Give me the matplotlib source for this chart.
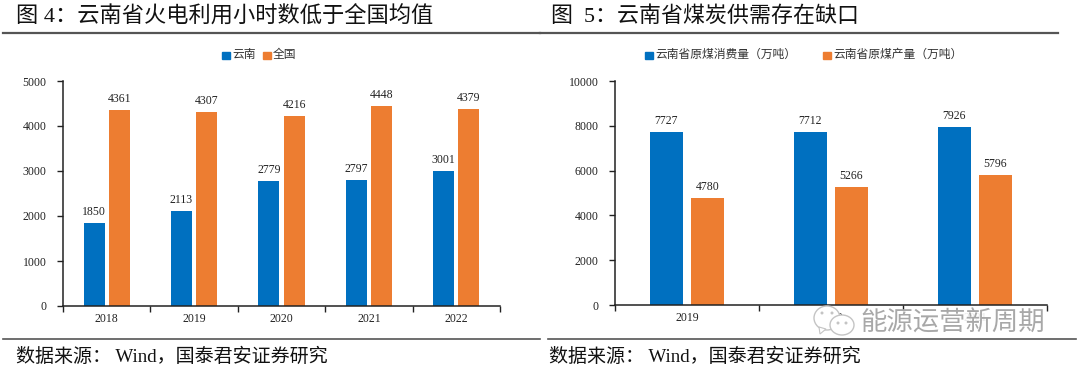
import matplotlib
matplotlib.use('Agg')
import matplotlib.pyplot as plt
from matplotlib.patches import Ellipse, Polygon
import numpy as np

plt.rcParams['font.family'] = ['Liberation Serif', 'Noto Sans CJK SC']

# data
years_left = ['2018', '2019', '2020', '2021', '2022']
yunnan = [1850, 2113, 2779, 2797, 3001]
national = [4361, 4307, 4216, 4448, 4379]

years_right = ['2019', '2020', '2021']
consumption = [7727, 7712, 7926]
production = [4780, 5266, 5796]

# fullwidth punctuation written as escapes
title_left = '图 4\uff1a云南省火电利用小时数低于全国均值'
title_right = '图  5\uff1a云南省煤炭供需存在缺口'
source = '数据来源\uff1a Wind\uff0c国泰君安证券研究'
legend_left = ['云南', '全国']
legend_right = ['云南省原煤消费量\uff08万吨\uff09', '云南省原煤产量\uff08万吨\uff09']

BLUE = '#0070C0'
ORANGE = '#ED7D31'
W, H = 1080, 370

fig = plt.figure(figsize=(W / 100, H / 100), dpi=100)


def px_axes(x0, x1, y_top, y_bottom):
    return fig.add_axes([x0 / W, 1 - y_bottom / H, (x1 - x0) / W, (y_bottom - y_top) / H])


def draw_bars(ax, labels, s1, s2, ymax, step, width, gap):
    x = np.arange(len(labels))
    ax.bar(x - (width + gap) / 2, s1, width, color=BLUE)
    ax.bar(x + (width + gap) / 2, s2, width, color=ORANGE)
    for i in range(len(labels)):
        ax.text(x[i] - (width + gap) / 2, s1[i] + ymax * 0.023, str(s1[i]), ha='center', va='bottom', fontsize=8.5, color='#222222')
        ax.text(x[i] + (width + gap) / 2, s2[i] + ymax * 0.023, str(s2[i]), ha='center', va='bottom', fontsize=8.5, color='#222222')
    ax.set_xlim(-0.5, len(labels) - 0.5)
    ax.set_ylim(0, ymax)
    ax.set_yticks(np.arange(0, ymax + 1, step))
    ax.set_xticks(np.arange(len(labels) + 1) - 0.5, minor=False)
    ax.set_xticklabels([''] * (len(labels) + 1))
    for i in range(len(labels)):
        ax.text(x[i], -0.057, labels[i], transform=ax.get_xaxis_transform(), ha='center', va='center', fontsize=8.5, color='#222222')
    ax.tick_params(axis='y', labelsize=8.5, length=4, width=1, colors='#222222', pad=8)
    ax.tick_params(axis='x', length=4, width=1, direction='out', color='#222222')
    ax.spines['top'].set_visible(False)
    ax.spines['right'].set_visible(False)
    ax.spines['left'].set_linewidth(1.1)
    ax.spines['bottom'].set_linewidth(1.1)
    ax.spines['left'].set_color('#222222')
    ax.spines['bottom'].set_color('#222222')


ax1 = px_axes(63, 500, 81, 306)
draw_bars(ax1, years_left, yunnan, national, 5000, 1000, 0.24, 0.05)

ax2 = px_axes(615, 1047, 81, 305)
draw_bars(ax2, years_right, consumption, production, 10000, 2000, 0.23, 0.055)

# legends
fig.patches.extend([
    plt.Rectangle((222 / W, 1 - 59 / H), 8 / W, 7 / H, color=BLUE, transform=fig.transFigure),
    plt.Rectangle((263 / W, 1 - 59 / H), 8 / W, 7 / H, color=ORANGE, transform=fig.transFigure),
    plt.Rectangle((645 / W, 1 - 59 / H), 8 / W, 7 / H, color=BLUE, transform=fig.transFigure),
    plt.Rectangle((823 / W, 1 - 59 / H), 8 / W, 7 / H, color=ORANGE, transform=fig.transFigure),
])
fig.text(232 / W, 1 - 55 / H, legend_left[0], fontsize=8.5, va='center', color='#333333')
fig.text(273 / W, 1 - 55 / H, legend_left[1], fontsize=8.5, va='center', color='#333333')
fig.text(655 / W, 1 - 55 / H, legend_right[0], fontsize=8.5, va='center', color='#333333')
fig.text(833 / W, 1 - 55 / H, legend_right[1], fontsize=8.5, va='center', color='#333333')

# titles, rules, source lines
fig.text(16 / W, 1 - 17 / H, title_left, fontsize=16, va='center', color='#111111')
fig.text(551 / W, 1 - 17 / H, title_right, fontsize=15.8, va='center', color='#111111')
fig.add_artist(plt.Line2D([3 / W, 540 / W], [1 - 33 / H] * 2, color='#555555', lw=1.6))
fig.add_artist(plt.Line2D([540 / W, 1058 / W], [1 - 33 / H] * 2, color='#555555', lw=1.6))
fig.add_artist(plt.Line2D([3 / W, 540 / W], [1 - 339 / H] * 2, color='#555555', lw=1.2))
fig.add_artist(plt.Line2D([548 / W, 1076 / W], [1 - 339 / H] * 2, color='#555555', lw=1.2))
fig.text(16 / W, 1 - 357 / H, source, fontsize=13.7, va='center', color='#111111')
fig.text(549 / W, 1 - 357 / H, source, fontsize=13.7, va='center', color='#111111')

# watermark
for cx, cy, w, h in [(827, 318, 26, 24), (842, 325, 24, 20)]:
    fig.add_artist(Ellipse((cx / W, 1 - cy / H), w / W, h / H, fc='white', ec='#C4C4C4', lw=1, transform=fig.transFigure))
fig.add_artist(Polygon([(819 / W, 1 - 327 / H), (826 / W, 1 - 329 / H), (820 / W, 1 - 334 / H)], fc='white', ec='#C4C4C4', lw=0.8, transform=fig.transFigure))
for cx, cy in [(822, 313), (832, 313), (838, 323), (846, 323)]:
    fig.add_artist(Ellipse((cx / W, 1 - cy / H), 3 / W, 3 / H, fc='#C4C4C4', ec='none', transform=fig.transFigure))
fig.text(860 / W, 1 - 323 / H, '能源运营新周期', fontsize=19, va='center', color='#A8A8A8', fontweight='light',
         bbox=dict(fc='white', ec='none', alpha=0.9, pad=0))

fig.savefig('out.png', dpi=100)
